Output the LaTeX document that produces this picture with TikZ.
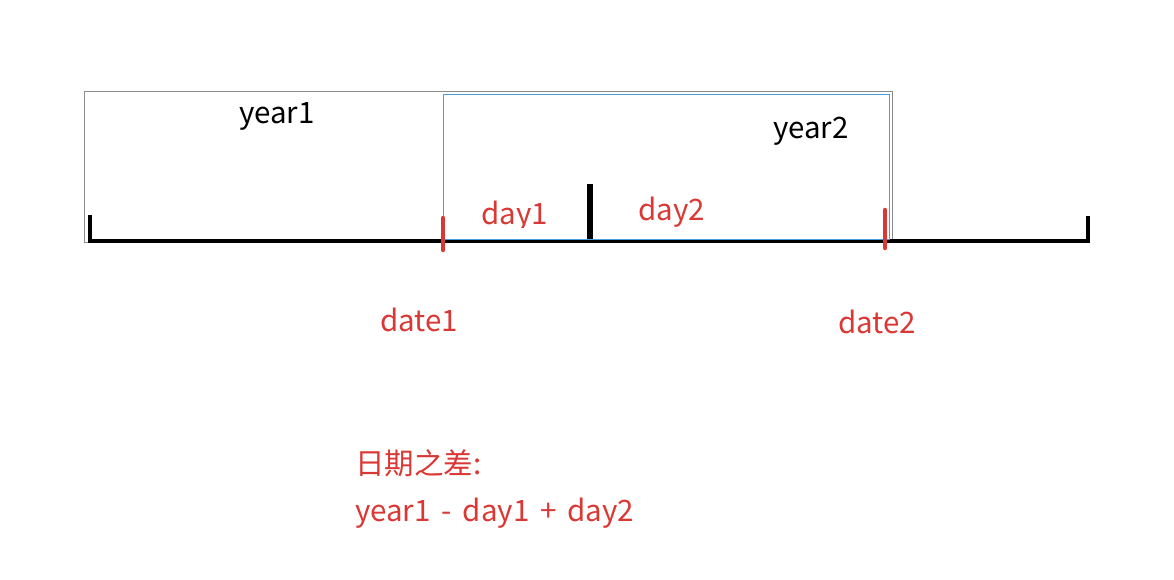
\documentclass[tikz,border=0pt]{standalone}
\usepackage{fontspec}
\setmainfont{Noto Sans CJK SC}
\definecolor{myred}{RGB}{218,56,52}
\definecolor{myblue}{RGB}{74,158,222}
\definecolor{mygray}{RGB}{140,140,140}
\begin{document}
\begin{tikzpicture}[x=1pt,y=-1pt,
  lbl/.style={inner sep=0pt,font=\fontsize{29.5}{34}\selectfont},
  redlbl/.style={lbl,text=myred},
  tickmark/.style={line width=4.5pt},
  redtick/.style={line width=4.5pt,myred,line cap=round}]
\useasboundingbox (0,0) rectangle (1174,580);
\draw[mygray,line width=1pt] (84,92) rectangle (892,242);
% baseline and ticks
\draw[line width=4pt] (90,215) -- (90,241) -- (1088,241) -- (1088,216);
\draw[line width=5.5pt] (590,184) -- (590,239);
\draw[myblue,line width=1pt] (443,95) rectangle (889,239);
\draw[redtick] (443,218) -- (443,250);
\draw[redtick] (885,210) -- (885,248);
\node[lbl] (y1) at (277,116) {year1};
\node[lbl] (y2) at (811,131) {year2};
\begin{scope}
\clip (450,190) rectangle (570,227);
\node[redlbl] (d1) at (515,216) {day1};
\end{scope}
\node[redlbl] (d2) at (672,212) {day2};
\node[redlbl] (dt1) at (419,320) {date1};
\node[redlbl] (dt2) at (877,322) {date2};
\node[redlbl,anchor=west] (diff) at (355,463) {日期之差:};
\node[redlbl,anchor=west] (form) at (355,513) {year1\hspace{0.37em}-\hspace{0.37em}day1\hspace{0.37em}+\hspace{0.37em}day2};
\end{tikzpicture}
\end{document}
